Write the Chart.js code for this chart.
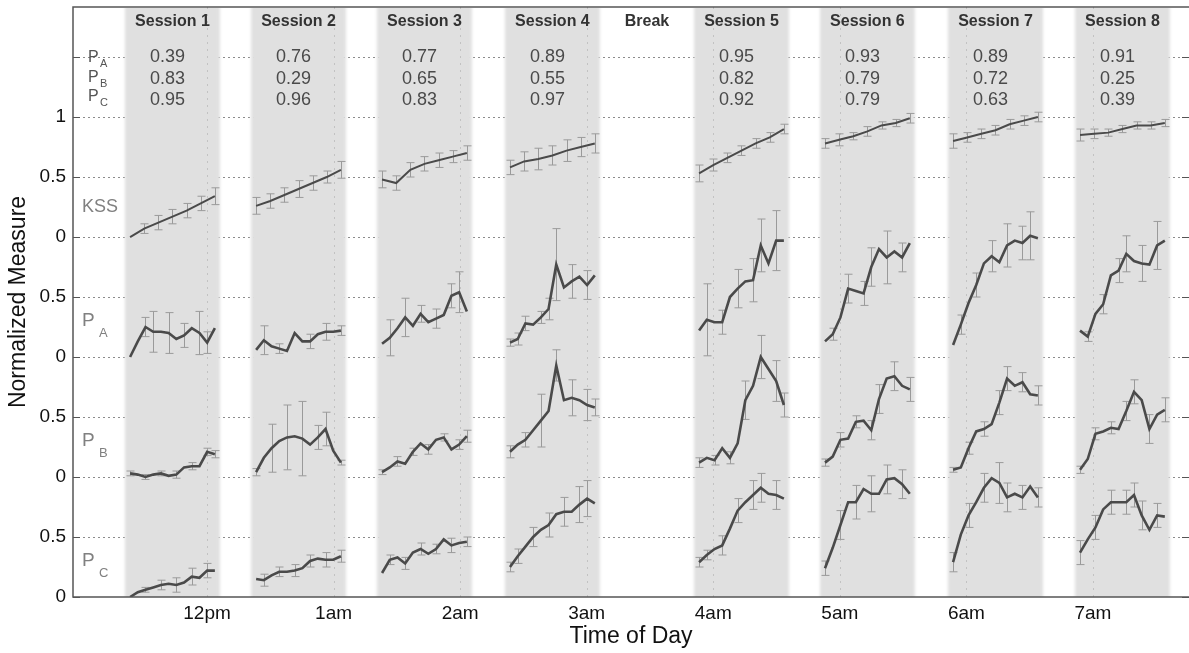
<!DOCTYPE html>
<html><head><meta charset="utf-8">
<script src="https://cdn.jsdelivr.net/npm/chart.js"></script>
<style>html,body{margin:0;padding:0;background:#fff;}#wrap{width:1189px;height:653px;}</style>
</head><body><div id="wrap"><canvas id="c" width="1189" height="653"></canvas></div>
<script>
// ---------- data ----------
const hourLabels = ['12pm','1am','2am','3am','4am','5am','6am','7am'];
const hourTicks = [0,1,2,3,4,5,6,7];
const yTickValues = [0,0.5,1,1.5,2,2.5,3,3.5,4,4.5];
const yTickLabels = ['0','0.5','0','0.5','0','0.5','0','0.5','1',''];
const xRange = [-1.059, 7.759];
const yRange = [0, 4.917];

const sessionNames = ['Session 1','Session 2','Session 3','Session 4','Session 5','Session 6','Session 7','Session 8'];
const sessionStarts = [-0.648, 0.348, 1.343, 2.354, 3.848, 4.843, 5.855, 6.858];
const sessionLength = 0.75;
const breakName = 'Break';
const breakCenter = 3.476;

const corrA = [0.39,0.76,0.77,0.89,0.95,0.93,0.89,0.91];
const corrB = [0.83,0.29,0.65,0.55,0.82,0.79,0.72,0.25];
const corrC = [0.95,0.96,0.83,0.97,0.92,0.79,0.63,0.39];

const kss = [
  [0.00,0.07,0.12,0.17,0.22,0.28,0.34],
  [0.26,0.30,0.35,0.40,0.45,0.50,0.56],
  [0.48,0.45,0.56,0.61,0.64,0.67,0.70],
  [0.58,0.63,0.65,0.68,0.72,0.75,0.78],
  [0.53,0.60,0.66,0.72,0.78,0.83,0.90],
  [0.78,0.81,0.84,0.88,0.93,0.95,0.99],
  [0.80,0.83,0.86,0.89,0.94,0.97,1.00],
  [0.85,0.86,0.87,0.90,0.93,0.93,0.95]
];
const kssErr = [
  [0,0.04,0.06,0.06,0.06,0.06,0.07],
  [0.07,0.06,0.06,0.07,0.06,0.05,0.07],
  [0.07,0.06,0.06,0.06,0.06,0.05,0.06],
  [0.06,0.08,0.09,0.08,0.09,0.08,0.08],
  [0.07,0.05,0.04,0.04,0.04,0.04,0.04],
  [0.04,0.05,0.03,0.04,0.03,0.03,0.04],
  [0.06,0.04,0.04,0.04,0.04,0.04,0.04],
  [0.05,0.04,0.03,0.03,0.03,0.03,0.03]
];
const pA = [
  [0.00,0.13,0.25,0.21,0.21,0.20,0.15,0.18,0.24,0.20,0.12,0.24],
  [0.06,0.14,0.09,0.07,0.05,0.20,0.13,0.13,0.19,0.21,0.21,0.22],
  [0.11,0.16,0.24,0.33,0.26,0.36,0.29,0.32,0.35,0.51,0.54,0.38],
  [0.12,0.15,0.28,0.27,0.33,0.40,0.77,0.58,0.63,0.67,0.60,0.68],
  [0.22,0.31,0.29,0.29,0.50,0.57,0.63,0.64,0.93,0.78,0.97,0.97],
  [0.13,0.19,0.33,0.57,0.55,0.53,0.75,0.90,0.83,0.88,0.83,0.95],
  [0.10,0.27,0.45,0.60,0.78,0.84,0.79,0.93,0.97,0.95,1.01,0.99],
  [0.22,0.17,0.36,0.44,0.68,0.72,0.86,0.80,0.78,0.77,0.93,0.97]
];
const pAErr = [
  [0,0,0.08,0.17,0,0.17,0,0.10,0,0.18,0.09,0],
  [0,0.12,0,0.04,0,0,0,0.06,0,0.07,0,0.04],
  [0,0.15,0,0.16,0,0.07,0,0.08,0,0.10,0.17,0],
  [0.03,0.05,0.06,0,0.05,0.09,0.30,0,0.14,0,0.12,0],
  [0,0.30,0,0.10,0,0.16,0,0.18,0.22,0,0.25,0],
  [0,0.05,0,0.12,0,0.10,0.16,0,0.22,0,0.12,0],
  [0,0.08,0,0.10,0,0.13,0,0.18,0,0.14,0.20,0],
  [0,0.04,0,0.08,0,0.10,0.15,0,0.15,0,0.20,0]
];
const pB = [
  [0.03,0.02,0.00,0.02,0.03,0.01,0.02,0.08,0.09,0.09,0.21,0.19],
  [0.04,0.16,0.24,0.30,0.33,0.34,0.32,0.27,0.33,0.40,0.22,0.12],
  [0.04,0.08,0.13,0.11,0.21,0.28,0.23,0.31,0.33,0.23,0.27,0.34],
  [0.21,0.27,0.31,0.39,0.47,0.55,0.93,0.64,0.66,0.64,0.60,0.58],
  [0.12,0.16,0.14,0.24,0.16,0.28,0.64,0.76,1.00,0.90,0.80,0.60],
  [0.12,0.17,0.31,0.32,0.46,0.47,0.39,0.65,0.82,0.84,0.76,0.73],
  [0.06,0.08,0.24,0.38,0.40,0.44,0.62,0.82,0.76,0.79,0.69,0.68],
  [0.06,0.15,0.36,0.38,0.41,0.40,0.55,0.71,0.64,0.40,0.52,0.56]
];
const pBErr = [
  [0.02,0,0.02,0,0.02,0,0.03,0,0.03,0,0.03,0.03],
  [0.03,0,0.20,0,0.27,0,0.31,0,0.10,0.14,0,0.02],
  [0.02,0,0.04,0,0.03,0,0.04,0,0.03,0,0.04,0.05],
  [0.05,0,0.06,0,0.22,0,0.13,0,0.15,0,0.13,0.07],
  [0.04,0,0.04,0,0.05,0,0.16,0,0.18,0,0.17,0.10],
  [0.03,0,0.06,0,0.05,0,0.08,0.12,0,0.12,0,0.10],
  [0.02,0,0.05,0,0.06,0,0.10,0.10,0,0.08,0,0.08],
  [0.03,0,0.05,0,0.05,0,0.08,0.10,0,0.12,0,0.10]
];
const pC = [
  [0.00,0.04,0.06,0.08,0.10,0.11,0.10,0.12,0.17,0.16,0.22,0.22],
  [0.15,0.14,0.18,0.21,0.21,0.22,0.24,0.30,0.32,0.31,0.31,0.34],
  [0.20,0.31,0.33,0.28,0.37,0.40,0.36,0.40,0.48,0.43,0.45,0.46],
  [0.25,0.34,0.42,0.50,0.56,0.60,0.69,0.71,0.71,0.77,0.82,0.78],
  [0.29,0.35,0.40,0.43,0.57,0.72,0.79,0.85,0.91,0.86,0.85,0.82],
  [0.24,0.41,0.60,0.79,0.79,0.90,0.86,0.86,0.98,0.99,0.94,0.86],
  [0.29,0.52,0.68,0.79,0.91,0.99,0.95,0.83,0.86,0.83,0.92,0.83],
  [0.37,0.48,0.58,0.73,0.79,0.79,0.79,0.85,0.68,0.56,0.68,0.67]
];
const pCErr = [
  [0,0,0.02,0,0.04,0,0.06,0,0.07,0,0.06,0],
  [0,0.05,0,0.04,0,0.05,0,0.05,0,0.06,0,0.05],
  [0,0.04,0,0.05,0,0.05,0,0.04,0,0.06,0,0.04],
  [0.04,0.06,0,0.08,0,0.10,0,0.12,0,0.15,0.15,0],
  [0.04,0.04,0,0.08,0,0.10,0,0.12,0.12,0,0.12,0],
  [0.06,0,0.12,0,0.14,0,0.15,0,0.12,0,0.12,0],
  [0.08,0,0.10,0,0.12,0,0.17,0.12,0,0.10,0,0.08],
  [0.10,0,0.10,0,0.10,0,0.10,0.10,0.12,0,0.10,0]
];

const seriesOffsets = [3,2,1,0];
const lineLead = 0.04, lineSpan = 0.67;

// ---------- build ----------
const FONT = "'Liberation Sans', Arial, Helvetica, sans-serif";
function buildPoints(vals, offset){
  const pts = [];
  vals.forEach((sess, s) => {
    const n = sess.length;
    sess.forEach((v, i) => pts.push({x: sessionStarts[s] + lineLead + i*lineSpan/(n-1), y: v + offset}));
    pts.push({x: sessionStarts[s] + sessionLength, y: null});
  });
  return pts;
}
const allVals = [kss, pA, pB, pC];
const allErr = [kssErr, pAErr, pBErr, pCErr];
const datasets = allVals.map((v, k) => ({
  data: buildPoints(v, seriesOffsets[k]),
  borderColor: '#4a4a4a', borderWidth: k === 0 ? 2 : 2.6,
  pointRadius: 0, tension: 0, fill: false, spanGaps: false
}));

const decor = {
  id: 'decor',
  beforeDatasetsDraw(chart){
    const {ctx, chartArea: a, scales: {x: xs, y: ys}} = chart;
    ctx.save();
    // horizontal dotted grid
    ctx.strokeStyle = '#8c8c8c'; ctx.lineWidth = 1; ctx.setLineDash([2,3]);
    yTickValues.forEach(v => { if (v === 0) return; const y = Math.round(ys.getPixelForValue(v)) + 0.5;
      ctx.beginPath(); ctx.moveTo(a.left, y); ctx.lineTo(a.right, y); ctx.stroke(); });
    ctx.setLineDash([]);
    // session bands (soft edges)
    ctx.save();
    ctx.beginPath(); ctx.rect(a.left + 1, a.top + 1, a.right - a.left, a.bottom - a.top - 1); ctx.clip();
    ctx.filter = 'blur(1.5px)';
    ctx.fillStyle = '#e0e0e0';
    sessionStarts.forEach(s => { const x0 = xs.getPixelForValue(s), x1 = xs.getPixelForValue(s + sessionLength);
      ctx.fillRect(x0, a.top - 5, x1 - x0, a.bottom - a.top + 10); });
    ctx.restore();
    // faint vertical grid at hours
    ctx.strokeStyle = '#c2c2c2'; ctx.setLineDash([2,5]);
    hourTicks.forEach(h => { const x = Math.round(xs.getPixelForValue(h)) + 0.5;
      ctx.beginPath(); ctx.moveTo(x, a.top); ctx.lineTo(x, a.bottom); ctx.stroke(); });
    ctx.setLineDash([]);
    // error bars
    ctx.strokeStyle = '#9a9a9a'; ctx.lineWidth = 1;
    allVals.forEach((vals, k) => vals.forEach((sess, s) => { const n = sess.length;
      sess.forEach((v, i) => { const e = allErr[k][s][i]; if (!e) return;
        const xv = sessionStarts[s] + lineLead + i*lineSpan/(n-1);
        const x = Math.round(xs.getPixelForValue(xv)) + 0.5;
        const y0 = ys.getPixelForValue(v + seriesOffsets[k] - e), y1 = ys.getPixelForValue(v + seriesOffsets[k] + e);
        ctx.beginPath(); ctx.moveTo(x, y0); ctx.lineTo(x, y1);
        ctx.moveTo(x - 4, y0); ctx.lineTo(x + 4, y0); ctx.moveTo(x - 4, y1); ctx.lineTo(x + 4, y1); ctx.stroke(); });
    }));
    ctx.restore();
  },
  afterDraw(chart){
    const {ctx, chartArea: a, scales: {x: xs, y: ys}} = chart;
    ctx.save();
    // frame
    ctx.strokeStyle = '#555'; ctx.lineWidth = 1.5;
    ctx.beginPath(); ctx.moveTo(a.right + 2, a.top); ctx.lineTo(a.left, a.top); ctx.lineTo(a.left, a.bottom); ctx.lineTo(a.right + 2, a.bottom); ctx.stroke();
    ctx.lineWidth = 1;
    yTickValues.forEach(v => { const y = Math.round(ys.getPixelForValue(v)) + 0.5;
      ctx.beginPath(); ctx.moveTo(a.left, y); ctx.lineTo(a.left + 7, y); ctx.moveTo(a.right - 7, y); ctx.lineTo(a.right, y); ctx.stroke(); });
    // session labels and correlations
    ctx.textAlign = 'center'; ctx.textBaseline = 'middle';
    const yTop = ys.getPixelForValue(4.5);
    sessionStarts.forEach((s, i) => {
      const cx = xs.getPixelForValue(s + sessionLength/2);
      ctx.fillStyle = '#333'; ctx.font = 'bold 16px ' + FONT;
      ctx.fillText(sessionNames[i], cx, a.top + 15);
      ctx.fillStyle = '#4a4a4a'; ctx.font = '18px ' + FONT;
      ctx.fillText(corrA[i].toFixed(2), cx - 5, yTop);
      ctx.fillText(corrB[i].toFixed(2), cx - 5, yTop + 22);
      ctx.fillText(corrC[i].toFixed(2), cx - 5, yTop + 43);
    });
    ctx.fillStyle = '#333'; ctx.font = 'bold 16px ' + FONT;
    ctx.fillText(breakName, xs.getPixelForValue(breakCenter), a.top + 15);
    // top-left P labels
    ctx.textAlign = 'left'; ctx.fillStyle = '#555';
    [['A',0],['B',20],['C',39]].forEach(([sub, dy]) => {
      ctx.font = '16px ' + FONT; ctx.fillText('P', a.left + 15, yTop + 1 + dy);
      ctx.font = '11px ' + FONT; ctx.fillText(sub, a.left + 27, yTop + 7 + dy);
    });
    // series labels
    ctx.fillStyle = '#808080';
    ctx.font = '18px ' + FONT; ctx.fillText('KSS', a.left + 9, ys.getPixelForValue(seriesOffsets[0] + 0.25));
    [['A',1],['B',2],['C',3]].forEach(([sub, k]) => {
      const y = ys.getPixelForValue(seriesOffsets[k] + 0.30);
      ctx.font = '19px ' + FONT; ctx.fillText('P', a.left + 9, y);
      ctx.font = '13px ' + FONT; ctx.fillText(sub, a.left + 26, y + 12);
    });
    // axis titles
    ctx.fillStyle = '#111'; ctx.textAlign = 'center';
    ctx.font = '23px ' + FONT;
    ctx.fillText('Time of Day', (a.left + a.right)/2, 637);
    ctx.translate(19, (a.top + a.bottom)/2); ctx.rotate(-Math.PI/2);
    ctx.fillText('Normalized Measure', 0, 0);
    ctx.restore();
  }
};

new Chart(document.getElementById('c'), {
  type: 'line',
  data: { datasets },
  options: {
    responsive: false, animation: false, devicePixelRatio: 1,
    layout: { padding: { top: 7, left: 0, right: 0, bottom: 0 } },
    plugins: { legend: { display: false }, tooltip: { enabled: false } },
    scales: {
      x: { type: 'linear', min: xRange[0], max: xRange[1],
        afterBuildTicks: s => { s.ticks = hourTicks.map(v => ({value: v})); },
        afterFit: s => { s.height = 56; s.paddingLeft = 0; s.paddingRight = 0; },
        grid: { display: false, drawTicks: false }, border: { display: false },
        ticks: { autoSkip: false, maxRotation: 0, padding: 5, color: '#111', font: { size: 19, family: FONT },
          callback: v => hourLabels[Math.round(v)] } },
      y: { type: 'linear', min: yRange[0], max: yRange[1],
        afterBuildTicks: s => { s.ticks = yTickValues.map(v => ({value: v})); },
        afterFit: s => { s.width = 73; s.paddingTop = 0; s.paddingBottom = 0; },
        grid: { display: false, drawTicks: false }, border: { display: false },
        ticks: { autoSkip: false, padding: 7, color: '#111', font: { size: 19, family: FONT },
          callback: (v, i) => yTickLabels[yTickValues.indexOf(v)] } }
    }
  },
  plugins: [decor]
});
</script></body></html>
